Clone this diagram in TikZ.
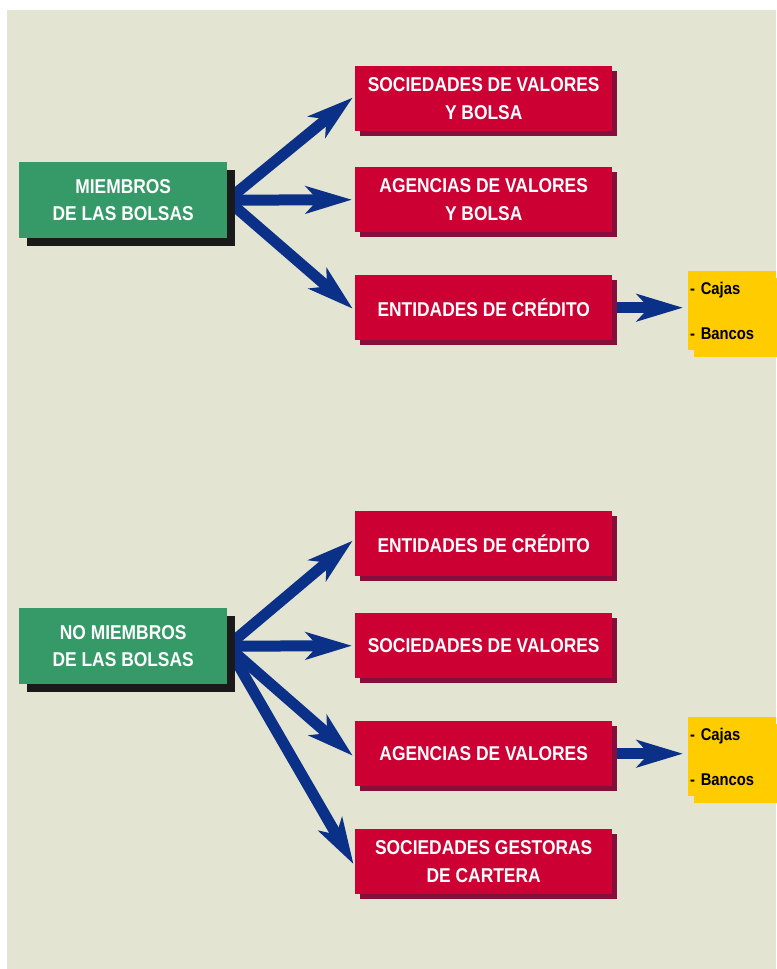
\documentclass[tikz,border=0pt]{standalone}
\usepackage{fontspec}
\usetikzlibrary{arrows.meta,shadows}
\newfontfamily\labfont{Liberation Sans}[FakeStretch=0.87]

\definecolor{paper}{HTML}{E4E4D3}
\definecolor{boxgreen}{HTML}{359A68}
\definecolor{boxred}{HTML}{CC0033}
\definecolor{redshade}{HTML}{850F3C}
\definecolor{darkshade}{HTML}{1A1A1A}
\definecolor{navy}{HTML}{0B3088}
\definecolor{boxyellow}{HTML}{FFCC00}

\pgfdeclarelayer{sheet}
\pgfdeclarelayer{links}
\pgfsetlayers{sheet,links,main}

\tikzset{
  groupbox/.style={anchor=north west, fill=boxgreen, text=white, inner sep=0pt,
    minimum width=208bp, minimum height=76bp, align=center,
    font=\labfont\bfseries\fontsize{20bp}{27bp}\selectfont,
    drop shadow={shadow xshift=8bp, shadow yshift=-8bp, fill=darkshade, opacity=1}},
  entitybox/.style={anchor=north west, fill=boxred, text=white, inner sep=0pt,
    minimum width=257bp, minimum height=65bp, align=center,
    font=\labfont\bfseries\fontsize{20bp}{28bp}\selectfont,
    drop shadow={shadow xshift=5bp, shadow yshift=-5bp, fill=redshade, opacity=1}},
  listbox/.style={anchor=north west, fill=boxyellow, text=black,
    inner xsep=2bp, inner ysep=0pt, text width=84bp,
    minimum width=88bp, minimum height=79bp, align=left,
    font=\labfont\bfseries\fontsize{17bp}{45bp}\selectfont,
    drop shadow={shadow xshift=6bp, shadow yshift=-7bp, fill=boxyellow, opacity=1}},
  fanarrow/.style={draw=navy, line width=11bp, shorten >=3bp,
    -{Stealth[length=46bp, width=27bp, inset=12bp]}},
}

\begin{document}
\begin{tikzpicture}[x=1bp, y=-1bp]
  % ---------- members ----------
  \node[groupbox] (g1) at (19,162) {MIEMBROS\\DE LAS BOLSAS};
  \node[entitybox] (r1) at (355,66) {SOCIEDADES DE VALORES\\Y BOLSA};
  \node[entitybox] (r2) at (355,167) {AGENCIAS DE VALORES\\Y BOLSA};
  \node[entitybox] (r3) at (355,275) {ENTIDADES DE CRÉDITO};
  \node[listbox] (y1) at (688,271) {- Cajas\\- Bancos};

  % ---------- non members ----------
  \node[groupbox] (g2) at (19,608) {NO MIEMBROS\\DE LAS BOLSAS};
  \node[entitybox] (r4) at (355,511) {ENTIDADES DE CRÉDITO};
  \node[entitybox] (r5) at (355,613) {SOCIEDADES DE VALORES};
  \node[entitybox] (r6) at (355,721) {AGENCIAS DE VALORES};
  \node[entitybox] (r7) at (355,829) {SOCIEDADES GESTORAS\\DE CARTERA};
  \node[listbox] (y2) at (688,717) {- Cajas\\- Bancos};

  % arrows run behind the boxes
  \begin{pgfonlayer}{links}
    \draw[fanarrow] (g1.east) -- ([yshift=3bp]r1.west);
    \draw[fanarrow] (g1.east) -- (r2.west);
    \draw[fanarrow] (g1.east) -- ([yshift=-3bp]r3.west);
    \draw[fanarrow, shorten >=5bp] (r3.east) -- (r3.east -| y1.west);

    \draw[fanarrow] (g2.east) -- ([yshift=5bp]r4.west);
    \draw[fanarrow] (g2.east) -- (r5.west);
    \draw[fanarrow] (g2.east) -- ([yshift=-4bp]r6.west);
    \draw[fanarrow] (g2.east) -- ([yshift=-5bp]r7.west);
    \draw[fanarrow, shorten >=5bp] (r6.east) -- (r6.east -| y2.west);
  \end{pgfonlayer}

  % page and paper
  \begin{pgfonlayer}{sheet}
    \fill[white] (0,0) rectangle (776,969);
    \fill[paper] (7,10) rectangle (776,969);
  \end{pgfonlayer}
  \useasboundingbox (0,0) rectangle (776,969);
\end{tikzpicture}
\end{document}
